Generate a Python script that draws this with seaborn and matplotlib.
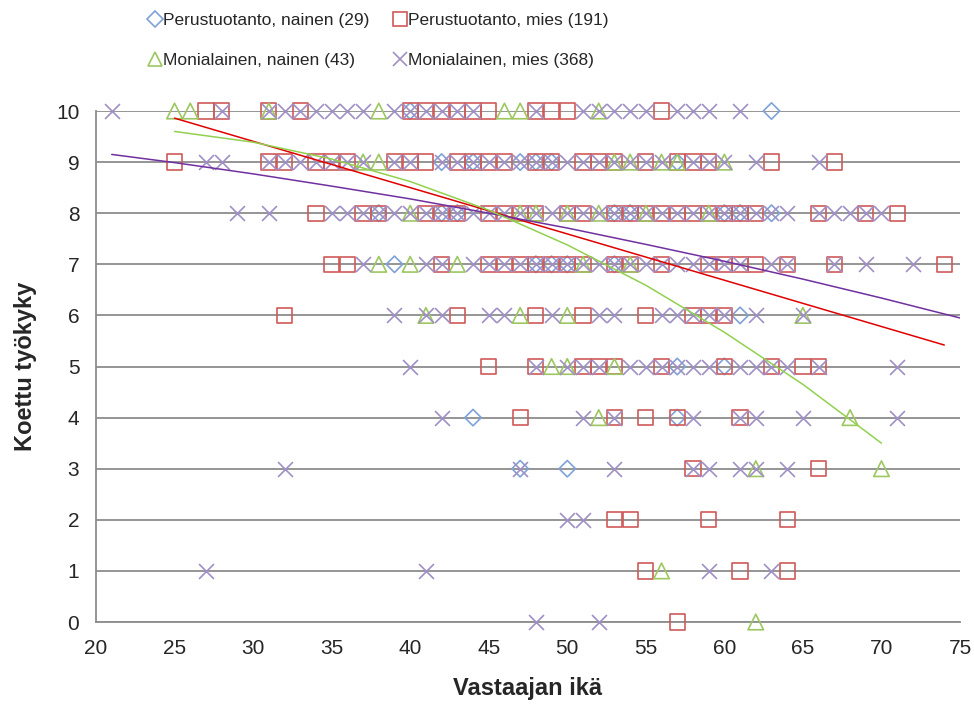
import matplotlib
matplotlib.use("Agg")
import matplotlib.pyplot as plt
from matplotlib.lines import Line2D
import pandas as pd
import seaborn as sns

# ages of respondents at each perceived work ability score
perus_nainen = {
    10: [40, 63],
    9: [42, 44, 47, 48, 49, 57],
    8: [38, 42, 43, 53, 54, 60, 61, 63],
    7: [39, 48, 49, 50, 53],
    6: [61],
    5: [57, 60],
    4: [44, 57],
    3: [47, 50],
}
perus_mies = {
    10: [27, 28, 31, 33, 40, 41, 42, 43, 44, 45, 48, 49, 50, 56],
    9: [25, 31, 32, 34, 35, 36, 39, 40, 41, 43, 44, 45, 46, 48, 49, 51, 52, 53,
        55, 57, 58, 59, 63, 67],
    8: [34, 37, 38, 41, 42, 43, 45, 46, 47, 48, 50, 51, 53, 54, 55, 56, 57, 58,
        59, 60, 61, 62, 66, 69, 71],
    7: [35, 36, 42, 45, 46, 47, 48, 49, 50, 51, 53, 54, 56, 59, 60, 61, 62, 64,
        67, 74],
    6: [32, 43, 48, 51, 55, 58, 59, 60],
    5: [45, 48, 51, 52, 53, 56, 60, 63, 65, 66],
    4: [47, 53, 55, 57, 61],
    3: [58, 66],
    2: [53, 54, 59, 64],
    1: [55, 61, 64],
    0: [57],
}
mon_nainen = {
    10: [25, 26, 31, 38, 46, 47, 52],
    9: [37, 38, 53, 54, 56, 57, 60],
    8: [40, 47, 48, 50, 52, 55, 59],
    7: [38, 40, 43, 51, 54],
    6: [41, 47, 50, 65],
    5: [49, 50, 53],
    4: [52, 68],
    3: [62, 70],
    1: [56],
    0: [62],
}
mon_mies = {
    10: [21, 28, 31, 32, 33, 34, 35, 36, 37, 39, 40, 41, 42, 43, 44, 48, 51, 52,
         53, 54, 55, 57, 58, 59, 61],
    9: [27, 28, 31, 32, 33, 34, 35, 36, 37, 39, 40, 42, 43, 44, 45, 46, 47, 48,
        49, 50, 51, 52, 53, 54, 55, 56, 58, 59, 60, 62, 66],
    8: [29, 31, 35, 36, 37, 38, 39, 40, 41, 42, 43, 44, 45, 46, 47, 48, 49, 50,
        51, 52, 53, 54, 55, 56, 57, 58, 59, 60, 61, 62, 63, 64, 66, 67, 68, 69, 70],
    7: [37, 41, 42, 44, 45, 46, 47, 48, 49, 50, 51, 52, 53, 54, 55, 56, 57, 58,
        59, 60, 61, 63, 64, 67, 69, 72],
    6: [39, 41, 42, 45, 46, 49, 52, 53, 56, 57, 58, 59, 60, 62, 65],
    5: [40, 48, 50, 51, 52, 54, 55, 56, 57, 58, 59, 61, 62, 63, 64, 66, 71],
    4: [42, 51, 53, 58, 61, 62, 65, 71],
    3: [32, 47, 53, 58, 59, 61, 62, 64],
    2: [50, 51],
    1: [27, 41, 59, 63],
    0: [48, 52],
}

# trend lines
trend_mies_perus_x = [25, 74]
trend_mies_perus_y = [9.86, 5.42]
trend_mies_mon_x = [21, 25, 30, 35, 40, 45, 50, 55, 60, 65, 70, 75]
trend_mies_mon_y = [9.15, 8.99, 8.77, 8.53, 8.28, 8.00, 7.71, 7.39, 7.06, 6.71, 6.34, 5.95]
trend_nainen_mon_x = [25, 30, 35, 40, 45, 50, 55, 60, 65, 70]
trend_nainen_mon_y = [9.60, 9.39, 9.06, 8.62, 8.06, 7.38, 6.59, 5.67, 4.65, 3.50]

labels = ["Perustuotanto, nainen (29)", "Perustuotanto, mies (191)",
          "Monialainen, nainen (43)", "Monialainen, mies (368)"]


def to_frame(d):
    rows = [(age, score) for score, ages in d.items() for age in ages]
    return pd.DataFrame(rows, columns=["ika", "tyokyky"])


sns.set_style("white")
plt.rcParams["font.family"] = ["Liberation Sans", "DejaVu Sans"]

fig = plt.figure(figsize=(9.74, 7.11), dpi=100)
ax = fig.add_axes([96 / 974, 1 - 622 / 711, (960 - 96) / 974, (622 - 111) / 711])

series = [
    (perus_nainen, "D", "#7fa2d8", 70),
    (perus_mies, "s", "#d05a5a", 120),
    (mon_nainen, "^", "#9dc760", 125),
    (mon_mies, "x", "#a08fc6", 115),
]
handles = []
for (d, marker, color, size), lab in zip(series, labels):
    df = to_frame(d)
    if marker == "x":
        sns.scatterplot(data=df, x="ika", y="tyokyky", marker=marker, s=size,
                        color=color, linewidth=1.2, clip_on=False, zorder=3, ax=ax)
    else:
        sns.scatterplot(data=df, x="ika", y="tyokyky", marker=marker, s=size,
                        color=color, facecolor="none", edgecolor=color,
                        linewidth=1.2, clip_on=False, zorder=3, ax=ax)
    handles.append(Line2D([], [], ls="none", marker=marker,
                          markersize=8 if marker == "D" else 10,
                          markerfacecolor="none", markeredgecolor=color,
                          markeredgewidth=1.2, color=color))

sns.lineplot(x=trend_mies_perus_x, y=trend_mies_perus_y, color="#e00000", lw=1.1, ax=ax, zorder=4)
sns.lineplot(x=trend_mies_mon_x, y=trend_mies_mon_y, color="#7030a0", lw=1.1, ax=ax, zorder=4)
sns.lineplot(x=trend_nainen_mon_x, y=trend_nainen_mon_y, color="#92d050", lw=1.1, ax=ax, zorder=4)

ax.set_xlim(20, 75)
ax.set_ylim(0, 10)
ax.set_xticks(range(20, 80, 5))
ax.set_yticks(range(0, 11))
ax.grid(axis="y", color="#8c8c8c", lw=1.3)
ax.grid(axis="x", visible=False)
ax.set_axisbelow(True)
for side in ["top", "right"]:
    ax.spines[side].set_visible(False)
for side in ["left", "bottom"]:
    ax.spines[side].set_color("#8c8c8c")
    ax.spines[side].set_linewidth(1.3)
ax.tick_params(axis="both", direction="out", length=6, width=1.3, color="#8c8c8c",
               labelsize=15, pad=6)
ax.set_xlabel("Vastaajan ikä", fontsize=17, fontweight="bold", labelpad=14)
ax.set_ylabel("Koettu työkyky", fontsize=17, fontweight="bold", labelpad=14)

# legend: two columns placed separately so they sit where the original has them
leg_kw = dict(loc="upper left", ncol=1, frameon=False, fontsize=12.5,
              handlelength=0.6, handletextpad=0.15, labelspacing=1.4,
              borderaxespad=0, borderpad=0)
fig.legend([handles[0], handles[2]], [labels[0], labels[2]],
           bbox_to_anchor=(150 / 974, 1 - 13 / 711), **leg_kw)
fig.legend([handles[1], handles[3]], [labels[1], labels[3]],
           bbox_to_anchor=(395 / 974, 1 - 13 / 711), **leg_kw)

fig.savefig("out.png", dpi=100)
